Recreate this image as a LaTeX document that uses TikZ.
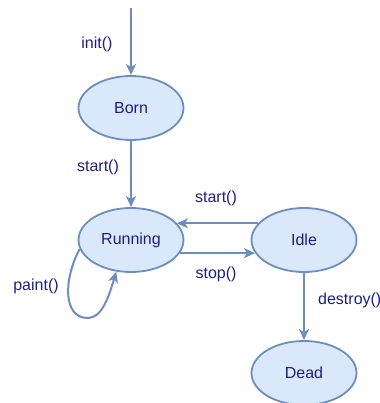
\documentclass[tikz,border=0pt]{standalone}
\usepackage{fontspec}
\setmainfont{Liberation Sans}
\usetikzlibrary{shapes.geometric,arrows.meta}
\definecolor{stfill}{HTML}{DAE8FC}
\definecolor{stline}{HTML}{6C8EBF}
\definecolor{txt}{RGB}{30,30,130}
\begin{document}
\begin{tikzpicture}[x=1pt,y=-1pt,
  state/.style={ellipse,draw=stline,fill=stfill,line width=1.8pt,minimum width=105pt,minimum height=64pt,inner sep=0pt,text=txt,font=\fontsize{16}{19}\selectfont},
  lbl/.style={text=txt,font=\fontsize{16}{19}\selectfont,inner sep=0pt},
  conn/.style={draw=stline,line width=2pt,-{Stealth[length=11pt,width=10pt,inset=3pt]}}]
\useasboundingbox (0,0) rectangle (379,403);
\node[state] (born) at (131,108) {Born};
\node[state] (run) at (131,240) {Running};
\node[state] (idle) at (304,240) {Idle};
\node[state] (dead) at (304,373) {Dead};
\coordinate (top) at (131,8);
\draw[conn] (top) -- (born);
\draw[conn] (born) -- (run);
\draw[conn] (idle.160) -- (run.20);
\draw[conn] (run.345) -- (idle.195);
\draw[conn] (idle) -- (dead);
\draw[conn] (run.190) .. controls (64,278) and (62,318) .. (88,318) .. controls (102,318) and (109,296) .. (run.245);
\node[lbl] (l1) at (97,44) {init()};
\node[lbl] (l2) at (98,167) {start()};
\node[lbl] (l3) at (216,198) {start()};
\node[lbl] (l4) at (216,274) {stop()};
\node[lbl] (l5) at (36,286) {paint()};
\node[lbl,anchor=west] (l6) at (318,300) {destroy()};
\end{tikzpicture}
\end{document}
